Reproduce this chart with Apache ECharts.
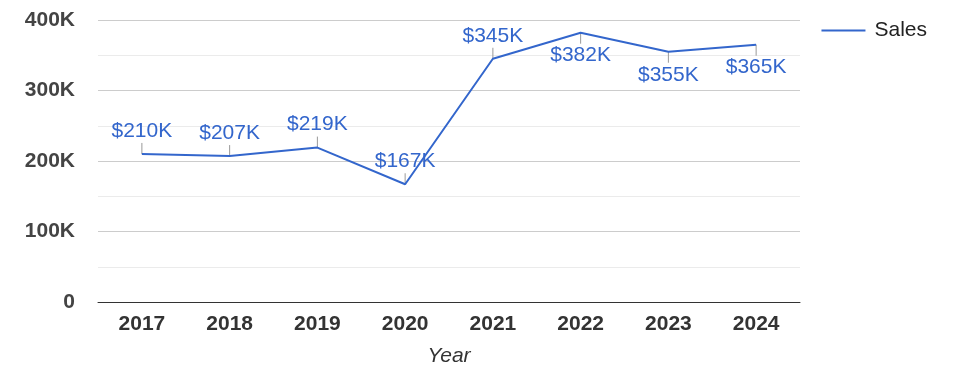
<!DOCTYPE html>
<html>
<head>
<meta charset="utf-8">
<style>
  html, body { margin: 0; padding: 0; background: #fff; }
  #chart { width: 975px; height: 378px; }
</style>
<script src="https://cdn.jsdelivr.net/npm/echarts@6/dist/echarts.min.js"></script>
</head>
<body>
<div id="chart"></div>
<script>
const years = ['2017', '2018', '2019', '2020', '2021', '2022', '2023', '2024'];
const sales = [210000, 207000, 219000, 167000, 345000, 382000, 355000, 365000];
const yTicks = [0, 100000, 200000, 300000, 400000];
const seriesName = 'Sales';
const xAxisTitle = 'Year';

const FONT = '"Liberation Sans", Arial, sans-serif';
const BLUE = '#3366cc';

const chart = echarts.init(document.getElementById('chart'), null, { renderer: 'canvas' });

const labelData = sales.map((v, i) => [i, v]);

chart.setOption({
  animation: false,
  grid: { left: 98, right: 175, top: 20, bottom: 76, containLabel: false },
  legend: {
    data: [seriesName],
    right: 43,
    top: 15,
    icon: 'rect',
    itemWidth: 44,
    itemHeight: 2,
    textStyle: { fontFamily: FONT, fontSize: 21, color: '#222', padding: [0, 0, 0, 4] }
  },
  xAxis: {
    type: 'category',
    data: years,
    boundaryGap: true,
    axisTick: { show: false },
    axisLine: { lineStyle: { color: '#333', width: 1 } },
    axisLabel: { fontFamily: FONT, fontSize: 21, fontWeight: 'bold', color: '#333', margin: 12 },
    name: xAxisTitle,
    nameLocation: 'middle',
    nameGap: 44,
    nameTextStyle: { fontFamily: FONT, fontSize: 21, fontStyle: 'italic', color: '#333' }
  },
  yAxis: {
    type: 'value',
    min: yTicks[0],
    max: yTicks[yTicks.length - 1],
    interval: yTicks[1] - yTicks[0],
    axisLine: { show: false },
    axisTick: { show: false },
    axisLabel: {
      fontFamily: FONT, fontSize: 21, fontWeight: 'bold', color: '#444', margin: 23,
      formatter: v => v === 0 ? '0' : (v / 1000) + 'K'
    },
    splitLine: { lineStyle: { color: '#cccccc', width: 1 } },
    minorTick: { show: false, splitNumber: 2 },
    minorSplitLine: { show: true, lineStyle: { color: '#ebebeb', width: 1 } }
  },
  series: [
    {
      name: seriesName,
      type: 'line',
      data: sales,
      showSymbol: false,
      symbol: 'none',
      lineStyle: { color: BLUE, width: 2 },
      itemStyle: { color: BLUE },
      z: 3
    },
    {
      name: 'labels',
      type: 'custom',
      data: labelData,
      encode: { x: 0, y: 1 },
      z: 2,
      silent: true,
      renderItem: function (params, api) {
        const idx = api.value(0);
        const val = api.value(1);
        const p = api.coord([idx, val]);
        const below = idx >= 5;
        const dir = below ? 1 : -1;
        return {
          type: 'group',
          children: [
            {
              type: 'line',
              shape: { x1: p[0], y1: p[1], x2: p[0], y2: p[1] + dir * 11 },
              style: { stroke: '#999', lineWidth: 1 }
            },
            {
              type: 'text',
              style: {
                x: p[0],
                y: p[1] + dir * 23,
                text: '$' + Math.round(val / 1000) + 'K',
                fill: BLUE,
                font: '21px ' + FONT,
                align: 'center',
                verticalAlign: 'middle'
              }
            }
          ]
        };
      }
    }
  ]
});
</script>
</body>
</html>
